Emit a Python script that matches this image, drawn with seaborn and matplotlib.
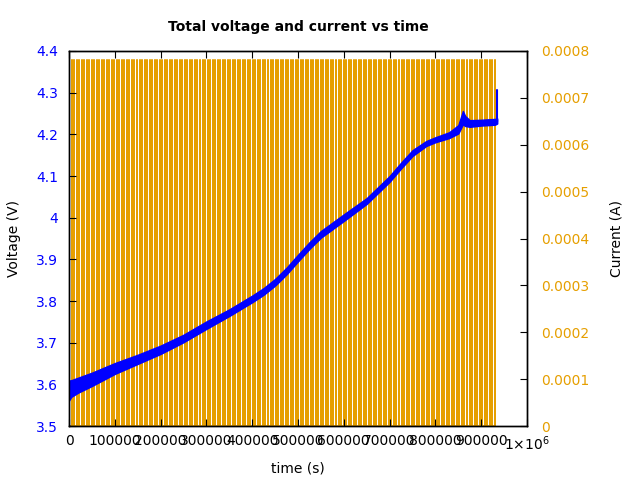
import numpy as np
import pandas as pd
import matplotlib
matplotlib.use("Agg")
import matplotlib.pyplot as plt
import seaborn as sns

# ---- data ----
time_v = [0, 5000, 20000, 50000, 100000, 150000, 200000, 250000, 300000, 350000,
          400000, 425000, 450000, 475000, 500000, 525000, 550000, 575000, 600000,
          650000, 700000, 725000, 750000, 780000,
          800000, 830000, 850000, 860000, 865000, 875000, 900000, 930000, 935000]
volt_mid = [3.585, 3.59, 3.598, 3.612, 3.638, 3.66, 3.683, 3.71, 3.742, 3.772,
            3.805, 3.823, 3.845, 3.872, 3.903, 3.933, 3.96, 3.98, 4.0,
            4.04, 4.093, 4.125, 4.155, 4.178,
            4.187, 4.198, 4.212, 4.24, 4.232, 4.226, 4.228, 4.23, 4.232]
volt_half = [0.024, 0.02, 0.018, 0.016, 0.013, 0.011, 0.01, 0.009, 0.009, 0.008,
             0.008, 0.008, 0.008, 0.008, 0.008, 0.008, 0.008, 0.008, 0.008,
             0.007, 0.007, 0.007, 0.007, 0.006,
             0.006, 0.007, 0.01, 0.016, 0.012, 0.008, 0.007, 0.007, 0.006]
spike_t = [935000, 935000]
spike_v = [4.232, 4.306]

current_level = 0.00078
pulse_period = 5500.0
pulse_end = 935000.0

xtick_vals = [0, 100000, 200000, 300000, 400000, 500000, 600000, 700000, 800000, 900000, 1000000]
xtick_labels = ["0", "100000", "200000", "300000", "400000", "500000", "600000",
                "700000", "800000", "900000", r"1$\times$10$^6$"]
ytick_vals = [3.5, 3.6, 3.7, 3.8, 3.9, 4.0, 4.1, 4.2, 4.3, 4.4]
ytick_labels = ["3.5", "3.6", "3.7", "3.8", "3.9", "4", "4.1", "4.2", "4.3", "4.4"]
y2tick_vals = [0, 0.0001, 0.0002, 0.0003, 0.0004, 0.0005, 0.0006, 0.0007, 0.0008]
y2tick_labels = ["0", "0.0001", "0.0002", "0.0003", "0.0004", "0.0005", "0.0006", "0.0007", "0.0008"]

BLUE = "#0000FF"
ORANGE = "#E69F00"

# ---- build current square wave ----
starts = np.arange(0.0, pulse_end, pulse_period)
cx, cy = [], []
for t in starts:
    cx += [t, t, t, t]
    cy += [0.0, current_level, current_level, 0.0]
cur_df = pd.DataFrame({"t": cx, "i": cy})
volt_df = pd.DataFrame({"t": time_v, "v": volt_mid})

sns.set_style("white")
plt.rcParams["font.family"] = ["DejaVu Sans"]
plt.rcParams["text.color"] = "black"
plt.rcParams["axes.labelcolor"] = "black"
plt.rcParams["xtick.color"] = "black"
plt.rcParams["ytick.color"] = "black"

fig = plt.figure(figsize=(6.4, 4.8), dpi=100)
ax = fig.add_axes([69/640, 1-426/480, (527-69)/640, (426-51)/480])
ax2 = ax.twinx()

sns.lineplot(data=cur_df, x="t", y="i", ax=ax2, sort=False, estimator=None,
             color=ORANGE, linewidth=1.1)

lo = np.array(volt_mid) - np.array(volt_half)
hi = np.array(volt_mid) + np.array(volt_half)
ax.fill_between(time_v, lo, hi, color=BLUE, linewidth=1.0, edgecolor=BLUE)
sns.lineplot(data=volt_df, x="t", y="v", ax=ax, sort=False, estimator=None,
             color=BLUE, linewidth=1.5)
ax.plot(spike_t, spike_v, color=BLUE, linewidth=1.5)

ax.set_zorder(ax2.get_zorder() + 1)
ax.patch.set_visible(False)

ax.set_xlim(0, 1000000)
ax.set_ylim(3.5, 4.4)
ax2.set_ylim(0, 0.0008)

ax.set_xticks(xtick_vals)
ax.set_xticklabels(xtick_labels, fontsize=10, color="black")
ax.set_yticks(ytick_vals)
ax.set_yticklabels(ytick_labels, fontsize=10, color=BLUE)
ax2.set_yticks(y2tick_vals)
ax2.set_yticklabels(y2tick_labels, fontsize=10, color=ORANGE)

ax.tick_params(axis="x", direction="in", length=5, top=True, bottom=True, pad=6)
ax.tick_params(axis="y", direction="in", length=5, left=True, right=False, pad=8)
ax2.tick_params(axis="y", direction="in", length=5, right=True, pad=10)

for a in (ax, ax2):
    for s in a.spines.values():
        s.set_color("black")
        s.set_linewidth(1.0)

ax.set_xlabel("time (s)", fontsize=10)
ax.xaxis.set_label_coords((298 - 69) / 458, (426 - 469) / 375)
ax.xaxis.label.set_va("center")
ax.set_ylabel("Voltage (V)", fontsize=10)
ax.yaxis.set_label_coords((14 - 69) / 458, 0.5)
ax.yaxis.label.set_va("center")
ax2.set_ylabel("Current (A)", fontsize=10)
ax2.yaxis.set_label_coords((617 - 69) / 458, 0.5)
ax2.yaxis.label.set_va("center")
fig.text(298 / 640, 1 - 27 / 480, "Total voltage and current vs time",
         fontsize=10, fontweight="bold", ha="center", va="center", color="black")

fig.savefig("out.png", dpi=100)
